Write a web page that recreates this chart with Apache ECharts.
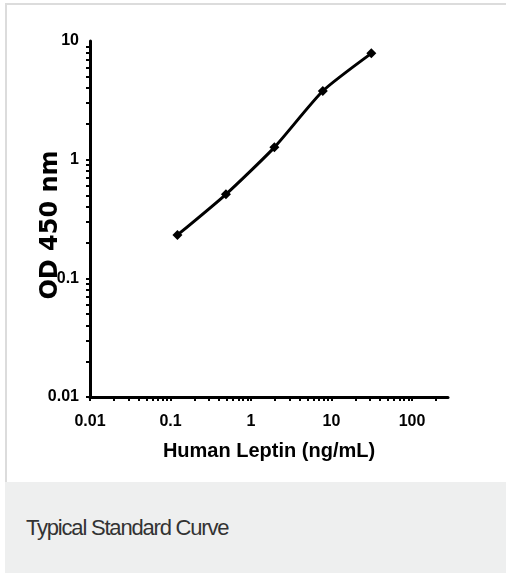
<!DOCTYPE html>
<html>
<head>
<meta charset="utf-8">
<script src="https://cdn.jsdelivr.net/npm/echarts@6/dist/echarts.min.js"></script>
<style>
  html, body { margin: 0; padding: 0; background: #fff; }
  #frame { position: absolute; left: 5px; top: 3px; width: 501px; height: 479px;
           box-sizing: border-box; border-top: 2px solid #dcdcdc; border-left: 2px solid #dcdcdc; }
  #chart { position: absolute; left: 0; top: 0; width: 506px; height: 482px; }
  #caption { position: absolute; left: 5px; top: 482px; width: 501px; height: 91px;
             background: #eeefef; box-sizing: border-box; padding-left: 21px;
             font-family: "Liberation Sans", Arial, sans-serif; font-size: 22px; letter-spacing: -1.2px;
             color: #333; line-height: 91px; }
</style>
</head>
<body>
<div id="frame"></div>
<div id="chart"></div>
<div id="caption"></div>
<script>
// Data
const concentrations = [0.122, 0.488, 1.95, 7.8, 31.25];   // Human Leptin (ng/mL)
const odValues = [0.232, 0.511, 1.27, 3.79, 7.87];          // OD 450 nm
const xTickLabels = [0.01, 0.1, 1, 10, 100];
const yTickLabels = [0.01, 0.1, 1, 10];
const xTitle = 'Human Leptin (ng/mL)';
const yTitle = 'OD 450 nm';
const captionText = 'Typical Standard Curve';

function minorTicks(decades, maxVal) {
  const out = [];
  decades.forEach(function (d) {
    for (let k = 1; k <= 9; k++) {
      const v = +(k * d).toPrecision(6);
      if (v <= maxVal) out.push(v);
    }
  });
  return out;
}

document.getElementById('caption').textContent = captionText;

const chart = echarts.init(document.getElementById('chart'), null, { renderer: 'canvas' });
const labelFont = {
  fontFamily: '"Liberation Sans", Arial, sans-serif',
  fontWeight: 'bold', fontSize: 16, color: '#000'
};
const fmt = function (v) { return String(+(+v).toPrecision(6)); };

chart.setOption({
  animation: false,
  backgroundColor: 'transparent',
  grid: { left: 90, top: 41, width: 358, height: 356, containLabel: false },
  xAxis: {
    type: 'log', logBase: 10, min: 0.01, max: 280,
    name: xTitle, nameLocation: 'middle', nameGap: 44, nameMoveOverlap: false,
    nameTextStyle: { fontFamily: '"Liberation Sans", Arial, sans-serif',
                     fontWeight: 'bold', fontSize: 20, color: '#000' },
    axisLine: { show: true, lineStyle: { color: '#000', width: 3 } },
    axisTick: { show: true, inside: false, length: 4, lineStyle: { color: '#000', width: 2 },
                customValues: minorTicks(xTickLabels, 280) },
    axisLabel: Object.assign({ margin: 17, formatter: fmt, customValues: xTickLabels }, labelFont),
    splitLine: { show: false }
  },
  yAxis: {
    type: 'log', logBase: 10, min: 0.01, max: 10,
    name: yTitle, nameLocation: 'middle', nameGap: 27, nameMoveOverlap: false,
    nameTextStyle: { fontFamily: '"DejaVu Sans", sans-serif', fontWeight: 'bold', fontSize: 24,
                     color: '#000', padding: [0, 12, 0, 0] },
    axisLine: { show: true, lineStyle: { color: '#000', width: 3 } },
    axisTick: { show: true, inside: false, length: 4, lineStyle: { color: '#000', width: 2 },
                customValues: minorTicks(yTickLabels.slice(0, 3), 10) },
    axisLabel: Object.assign({ margin: 11, formatter: fmt, customValues: yTickLabels }, labelFont),
    splitLine: { show: false }
  },
  series: [{
    type: 'line',
    data: concentrations.map(function (c, i) { return [c, odValues[i]]; }),
    smooth: 0.2,
    symbol: 'diamond', symbolSize: 10,
    lineStyle: { color: '#000', width: 3 },
    itemStyle: { color: '#000' }
  }]
});
</script>
</body>
</html>
